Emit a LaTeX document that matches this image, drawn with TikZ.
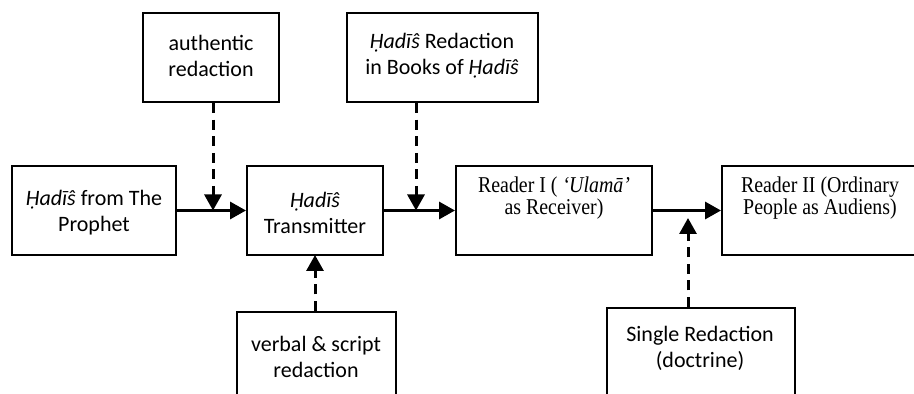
\documentclass[tikz,border=0pt]{standalone}
\usepackage{fontspec}
\setmainfont{Liberation Serif}
\newfontfamily\calib{Carlito}
\newfontfamily\narrowserif[FakeStretch=0.88]{Liberation Serif}
\usetikzlibrary{arrows.meta,fit}
\begin{document}
\begin{tikzpicture}[x=0.5pt,y=-0.5pt,
  box/.style={draw, line width=1pt, inner sep=0pt},
  sanstext/.style={align=center, inner sep=0pt, font=\calib\fontsize{11}{13}\selectfont},
  seriftext/.style={align=center, inner sep=0pt, font=\narrowserif\fontsize{11.3}{10.9}\selectfont},
  flow/.style={line width=1.6pt, -{Triangle[length=8pt,width=8.5pt]}},
  dflow/.style={line width=1.5pt, dash pattern=on 5pt off 3.3pt, -{Triangle[length=8pt,width=8.5pt]}}]
\clip (0,0) rectangle (914,394);
% boxes
\node[box, fit={(12,166) (176,255)}] (b1) {};
\node[box, fit={(247,166) (383,255)}] (b2) {};
\node[box, fit={(456,166) (652,255)}] (b3) {};
\node[box, fit={(722,166) (940,255)}] (b4) {};
\node[box, fit={(143,13) (279,102)}] (ba) {};
\node[box, fit={(347,13) (538,102)}] (bb) {};
\node[box, fit={(237,312) (396,420)}] (bc) {};
\node[box, fit={(607,308) (795,420)}] (bd) {};
% texts
\node[sanstext] (t1) at (94,213) {\textit{Ḥadīŝ} from The\\Prophet};
\node[sanstext] (t2) at (315,213) {\textit{Ḥadīŝ}\\Transmitter};
\node[seriftext] (t3) at (554,198) {Reader I ( \textit{‘Ulamā’}\\as Receiver)};
\node[seriftext] (t4) at (820,198) {Reader II (Ordinary\\People as Audiens)};
\node[sanstext] (ta) at (211,56) {authentic\\redaction};
\node[sanstext] (tb) at (442,56) {\textit{Ḥadīŝ} Redaction\\in Books of \textit{Ḥadīŝ}};
\node[sanstext] (tc) at (316,357) {verbal \& script\\redaction};
\node[sanstext] (td) at (700,348) {Single Redaction\\(doctrine)};
% junction coordinates
\coordinate (ja) at (213,210.5);
\coordinate (jb) at (416,210.5);
\coordinate (jc) at (315,255);
\coordinate (jd) at (688,218);
% main flow
\draw[flow] (b1.east) -- (b2.west);
\draw[flow] (b2.east) -- (b3.west);
\draw[flow] (b3.east) -- (b4.west);
% dashed influences
\draw[dflow] (ja |- ba.south) -- (ja);
\draw[dflow] (jb |- bb.south) -- (jb);
\draw[dflow] (jc |- bc.north) -- (jc);
\draw[dflow] (jd |- bd.north) -- (jd);
\end{tikzpicture}
\end{document}
